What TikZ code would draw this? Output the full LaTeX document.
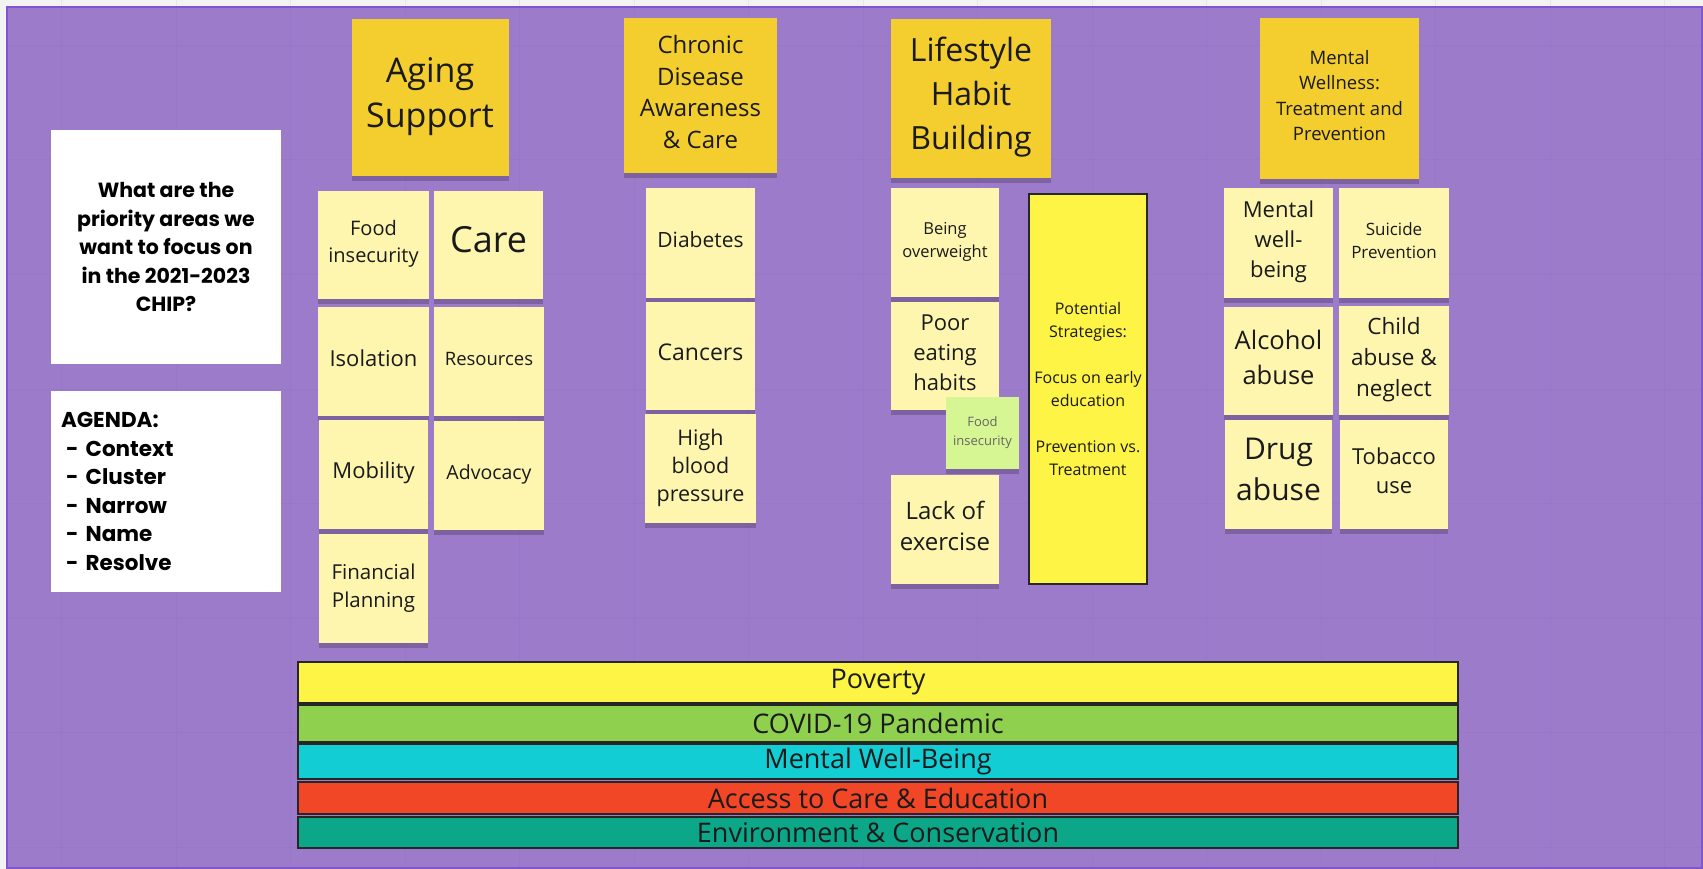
\documentclass[tikz,border=0pt]{standalone}
\usepackage{fontspec}
\setmainfont{Open Sans}
\newfontfamily\boardfont{Poppins}
\usetikzlibrary{shadows}

\definecolor{canvasgray}{HTML}{F3F3F3}
\definecolor{canvasline}{HTML}{E6E6E6}
\definecolor{boardpurple}{HTML}{9D7BCB}
\definecolor{boardedge}{HTML}{7F55D0}
\definecolor{gridpurple}{HTML}{9977C8}
\definecolor{headgold}{HTML}{F3CE2E}
\definecolor{notepale}{HTML}{FEF6AE}
\definecolor{notegreen}{HTML}{D5F692}
\definecolor{brightyellow}{HTML}{FEF445}
\definecolor{barlime}{HTML}{8FD14F}
\definecolor{barcyan}{HTML}{12CDD4}
\definecolor{barred}{HTML}{F24726}
\definecolor{barteal}{HTML}{0CA789}
\definecolor{inkdark}{HTML}{1A1A1A}

\newcommand{\fsz}[2]{\fontsize{#1}{#2}\selectfont}

\tikzset{
  note/.style={fill=notepale, minimum width=109pt, minimum height=109pt, inner sep=2pt,
    align=center, text=inkdark,
    execute at end node={\rule[-0.32em]{0pt}{0pt}},
    drop shadow={shadow xshift=0pt, shadow yshift=-5pt, opacity=0.2, fill=black}},
  header/.style={note, fill=headgold, minimum width=157pt, minimum height=157pt},
  infobox/.style={fill=white, inner sep=0pt, text=black},
  band/.style={draw=black!85, line width=2pt, minimum width=1160pt, minimum height=#1,
    inner sep=0pt, text=inkdark, font=\fsz{27}{30}}
}

\begin{document}
\begin{tikzpicture}[x=1pt, y=-1pt]
  \useasboundingbox (0,0) rectangle (1703,869);

  % Canvas and board
  \fill[canvasgray] (0,0) rectangle (1703,869);
  \foreach \gx in {0,...,14}
    \draw[canvasline, line width=1pt] ({61.5+114.5*\gx},0) -- ({61.5+114.5*\gx},869);
  \fill[boardpurple] (7,7) rectangle (1702,868);
  \foreach \gx in {0,...,14}
    \draw[gridpurple, line width=1pt] ({61.5+114.5*\gx},8) -- ({61.5+114.5*\gx},867);
  \foreach \gy in {0,...,7}
    \draw[gridpurple, line width=1pt] (8,{45.5+114.5*\gy}) -- (1701,{45.5+114.5*\gy});
  \draw[boardedge, line width=2pt] (7,7) rectangle (1702,868);

  % Question and agenda
  \node[infobox, minimum width=230pt, minimum height=234pt, align=center,
    font=\boardfont\bfseries\fsz{20.5}{28.5}] (question) at (166,247)
    {What are the\\priority areas we\\want to focus on\\in the 2021-2023\\CHIP?};
  \node[infobox, minimum width=230pt, minimum height=201pt, inner xsep=10pt, text width=210pt,
    align=left, font=\boardfont\bfseries\fsz{21.5}{28.6}] (agenda) at (166,491.5)
    {AGENDA:\\\hspace*{5pt}- Context\\\hspace*{5pt}- Cluster\\\hspace*{5pt}- Narrow\\\hspace*{5pt}- Name\\\hspace*{5pt}- Resolve};

  % Headers
  \node[header, font=\fsz{34}{45}] (hAging) at (430,98) {Aging\\Support};
  \node[header, minimum width=153pt, minimum height=155pt, font=\fsz{24}{31.5}] (hChronic) at (700.5,95.5)
    {Chronic\\Disease\\Awareness\\\& Care};
  \node[header, minimum width=160pt, minimum height=159pt, font=\fsz{32}{44}] (hLife) at (971,98.5)
    {Lifestyle\\Habit\\Building};
  \node[header, minimum width=159pt, minimum height=161pt, font=\fsz{18.5}{25.3}] (hMental) at (1339.5,98.5)
    {Mental\\Wellness:\\Treatment and\\Prevention};

  % Aging support notes
  \node[note, minimum width=111pt, minimum height=108pt, font=\fsz{20}{27}] (aFood) at (373.5,245) {Food\\insecurity};
  \node[note, minimum height=108pt, font=\fsz{36}{40}] (aCare) at (488.5,245) {Care};
  \node[note, minimum width=111pt, font=\fsz{22}{28}] (aIso) at (373.5,361.5) {Isolation};
  \node[note, minimum width=110pt, font=\fsz{18.5}{25}] (aRes) at (489,361.5) {Resources};
  \node[note, font=\fsz{22}{28}] (aMob) at (373.5,474) {Mobility};
  \node[note, minimum width=110pt, font=\fsz{19.5}{26}] (aAdv) at (489,475.5) {Advocacy};
  \node[note, font=\fsz{20.5}{28}] (aFin) at (373.5,588.5) {Financial\\Planning};

  % Chronic disease notes
  \node[note, minimum height=110pt, font=\fsz{21}{28}] (cDia) at (700.5,243) {Diabetes};
  \node[note, minimum height=108pt, font=\fsz{23}{30}] (cCan) at (700.5,356) {Cancers};
  \node[note, minimum width=111pt, font=\fsz{21.5}{28}] (cHbp) at (700.5,468.5) {High\\blood\\pressure};

  % Lifestyle notes
  \node[note, minimum width=108pt, font=\fsz{16.5}{22.5}] (lOver) at (945,242.5) {Being\\overweight};
  \node[note, minimum width=108pt, minimum height=108pt, font=\fsz{22}{30}] (lPoor) at (945,356) {Poor\\eating\\habits};
  \node[note, fill=notegreen, minimum width=73pt, minimum height=72pt, text=black!60,
    font=\fsz{13}{18.5}] (lFood) at (982.5,433) {Food\\insecurity};
  \node[note, minimum width=108pt, font=\fsz{24}{31.5}] (lLack) at (945,529.5) {Lack of\\exercise};
  \node[fill=brightyellow, draw=black!85, line width=2.5pt, minimum width=118pt, minimum height=390pt,
    align=center, text=inkdark, font=\fsz{16}{23}] (lStrat) at (1088,389)
    {Potential\\Strategies:\\[23pt]Focus on early\\education\\[23pt]Prevention vs.\\Treatment};

  % Mental wellness notes
  \node[note, minimum height=110pt, font=\fsz{22}{30}] (mWell) at (1278.5,243) {Mental\\well-\\being};
  \node[note, minimum width=110pt, minimum height=110pt, font=\fsz{17}{23}] (mSui) at (1394,243) {Suicide\\Prevention};
  \node[note, minimum height=108pt, font=\fsz{25.5}{35}] (mAlc) at (1278.5,361) {Alcohol\\abuse};
  \node[note, minimum width=110pt, font=\fsz{22.5}{31}] (mChild) at (1394,360.5) {Child\\abuse \&\\neglect};
  \node[note, minimum width=107pt, font=\fsz{30}{41}] (mDrug) at (1278.5,474.5) {Drug\\abuse};
  \node[note, minimum width=108pt, font=\fsz{22}{29}] (mTob) at (1394,474.5) {Tobacco\\use};

  % Cross-cutting bands
  \foreach \bname/\by/\bh/\bcol/\btext in {
      pov/682.5/41pt/brightyellow/Poverty,
      cov/723.5/37pt/barlime/COVID-19 Pandemic,
      mwb/761.5/35pt/barcyan/Mental Well-Being,
      acc/798/32pt/barred/Access to Care \& Education,
      env/832.5/31pt/barteal/Environment \& Conservation}
    \node[band=\bh, fill=\bcol] (bar\bname) at (878,\by) {\btext};
\end{tikzpicture}
\end{document}
